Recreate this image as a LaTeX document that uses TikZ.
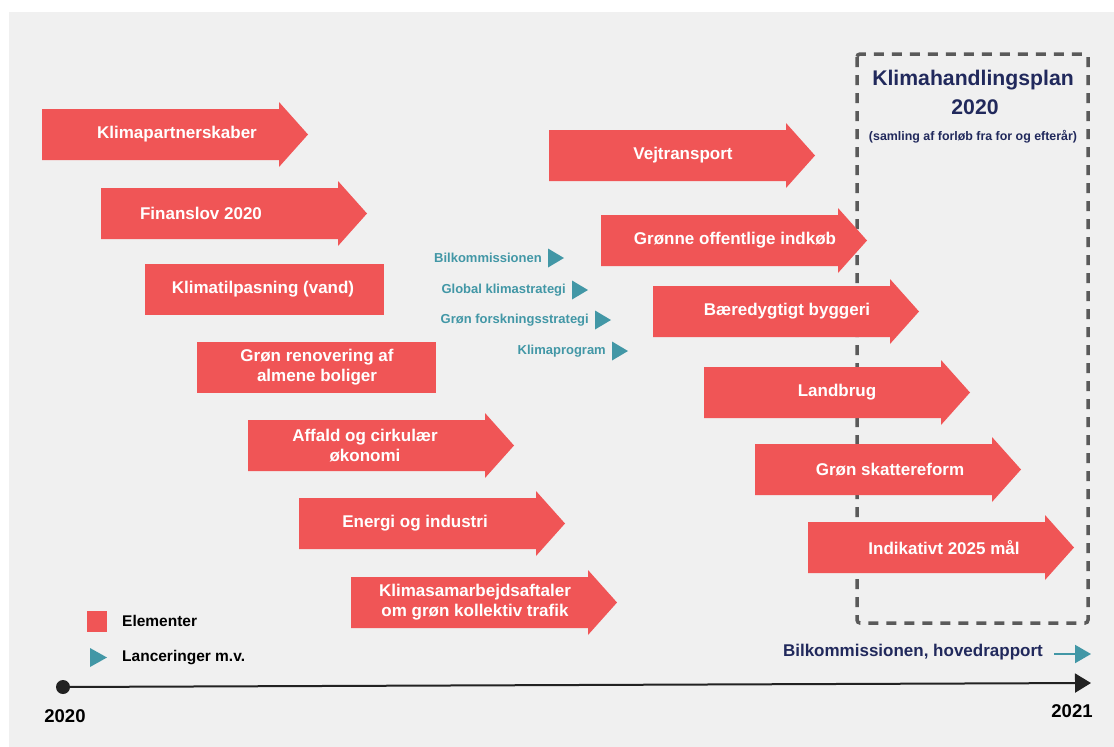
\documentclass[tikz,border=0pt]{standalone}
\usepackage{fontspec}
\setmainfont{Liberation Sans}
\usetikzlibrary{arrows.meta}
\definecolor{elrod}{RGB}{240,85,86}
\definecolor{lanteal}{RGB}{66,151,166}
\definecolor{planblaa}{RGB}{33,41,92}
\definecolor{baggrund}{RGB}{240,240,240}
\definecolor{rammegraa}{RGB}{90,90,90}
\definecolor{linjesort}{RGB}{34,34,34}
\begin{document}
\begin{tikzpicture}[x=1pt,y=-1pt,
    eltekst/.style={text=white,align=center,inner sep=0pt,
        font=\bfseries\fontsize{17}{20}\selectfont},
    lantekst/.style={text=lanteal,anchor=east,inner sep=0pt,
        font=\bfseries\fontsize{13}{15}\selectfont},
    forklaring/.style={text=black,anchor=west,inner sep=0pt,
        font=\bfseries\fontsize{15.5}{17}\selectfont},
    aarstal/.style={text=black,inner sep=0pt,
        font=\bfseries\fontsize{18.5}{20}\selectfont},
    plantekst/.style={text=planblaa,inner sep=0pt}]
            \useasboundingbox (0,0) rectangle (1114,747);
            \fill[baggrund] (9,12) rectangle (1114,747);
            % klimahandlingsplan
            \draw[rammegraa,line width=3.5pt,dash pattern=on 10pt off 8pt,
                rounded corners=3pt] (857,54) rectangle (1088,623);
            \node[plantekst,font=\bfseries\fontsize{21.2}{24}\selectfont]
                (kh) at (973,80) {Klimahandlingsplan};
            \node[plantekst,font=\bfseries\fontsize{21.2}{24}\selectfont]
                (kaar) at (975,107) {2020};
            \node[plantekst,font=\bfseries\fontsize{12.4}{14}\selectfont]
                (ksam) at (973,137) {(samling af forløb fra for og efterår)};
            \def\bl{237}
            \def\bh{51}
            % elementer med pil
            \foreach \x/\y/\tc/\nm/\txt in
                {42/109/177/kp/Klimapartnerskaber,
                 101/188/201/fl/{Finanslov 2020},
                 248/420/365/ac/{Affald og cirkulær\\økonomi},
                 299/498/415/ei/{Energi og industri},
                 351/577/475/ks/{Klimasamarbejdsaftaler\\om grøn kollektiv trafik},
                 549/130/683/vt/Vejtransport,
                 601/215/735/go/{Grønne offentlige indkøb},
                 653/286/787/bb/{Bæredygtigt byggeri},
                 704/367/837/lb/Landbrug,
                 755/444/890/gs/{Grøn skattereform},
                 808/522/944/im/{Indikativt 2025 mål}}
            {\fill[elrod] (\x,\y) -- ++(\bl,0) -- ++(0,-7)
                -- ++(29,32.5) -- ++(-29,32.5) -- ++(0,-7)
                -- ++(-\bl,0) -- cycle;
             \node[eltekst] (\nm) at (\tc,{\y+\bh/2}) {\txt};}
            % elementer uden pil
            \foreach \x/\y/\tc/\nm/\txt in
                {145/264/263/kt/{Klimatilpasning (vand)},
                 197/342/317/gr/{Grøn renovering af\\almene boliger}}
            {\fill[elrod] (\x,\y) rectangle ++(239,\bh);
             \node[eltekst] (\nm) at (\tc,{\y+\bh/2}) {\txt};}
            % lanceringer
            \foreach \tx/\ty/\nm/\txt in
                {548/258/lbk/Bilkommissionen,
                 572/290/lgk/Global klimastrategi,
                 595/320/lgf/Grøn forskningsstrategi,
                 612/351/lkp/Klimaprogram}
            {\node[lantekst] (\nm) at ({\tx-6},\ty) {\txt};
             \fill[lanteal] (\tx,{\ty-9.5}) -- ++(16,9.5)
                -- ++(-16,9.5) -- cycle;}
            % forklaring
            \fill[elrod] (87,611) rectangle (107,632);
            \node[forklaring] (fel) at (122,621) {Elementer};
            \fill[lanteal] (90,648) -- (107,657.5) -- (90,667) -- cycle;
            \node[forklaring] (flan) at (122,658) {Lanceringer m.v.};
            % tidslinje
            \coordinate (t0) at (63,687);
            \coordinate (t1) at (1091,683);
            \draw[linjesort,line width=2pt,
                -{Triangle[length=16pt,width=19pt]}] (t0) -- (t1);
            \fill[linjesort] (t0) circle (7pt);
            \node[aarstal] (a20) at (65,716) {2020};
            \node[aarstal] (a21) at (1072,711) {2021};
            % hovedrapport
            \node[plantekst,anchor=east,font=\bfseries\fontsize{17}{19}\selectfont]
                (hr) at (1043,652) {Bilkommissionen, hovedrapport};
            \coordinate (h0) at (1054,654);
            \coordinate (h1) at (1091,654);
            \draw[lanteal,line width=2pt,
                -{Triangle[length=16pt,width=18pt]}] (h0) -- (h1);
            \end{tikzpicture}
\end{document}
